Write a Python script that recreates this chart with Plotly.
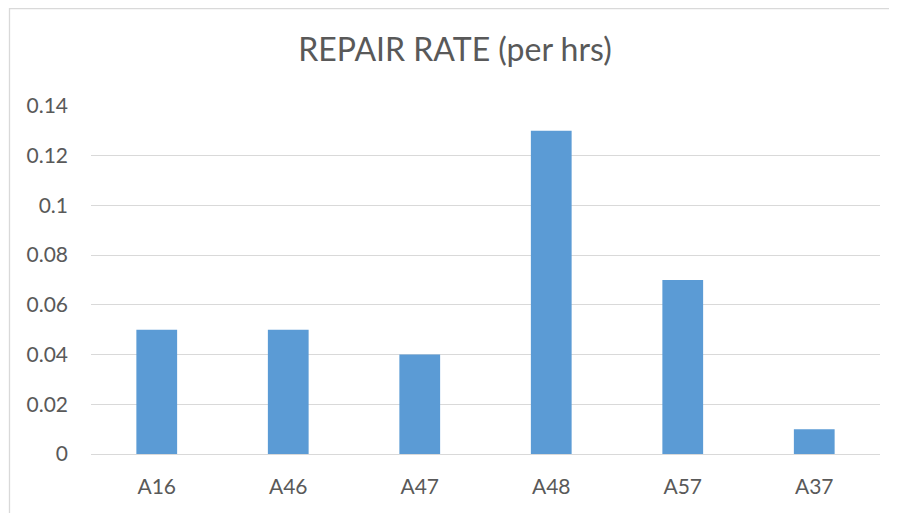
import plotly.graph_objects as go

# data
machines = ["A16", "A46", "A47", "A48", "A57", "A37"]
repair_rate = [0.05, 0.05, 0.04, 0.13, 0.07, 0.01]
y_ticks = [0, 0.02, 0.04, 0.06, 0.08, 0.1, 0.12, 0.14]
y_tick_labels = ["0", "0.02", "0.04", "0.06", "0.08", "0.1", "0.12", "0.14"]

text_grey = "#595959"
grid_grey = "#d9d9d9"

fig = go.Figure(
    go.Bar(x=machines, y=repair_rate, marker=dict(color="#5b9bd5", line=dict(width=0)))
)

# the page body adds an 8px offset, so the figure is 8px smaller
W, H = 889, 505
# plot area in figure pixels
left, right, top, bottom = 83, 872, 98, 446
pw, ph = right - left, bottom - top

fig.update_layout(
    width=W, height=H,
    margin=dict(l=left, r=W - right, t=top, b=H - bottom),
    paper_bgcolor="white", plot_bgcolor="white",
    font=dict(family="Lato", color=text_grey, size=21),
    bargap=0.69,
    showlegend=False,
    title=dict(text="REPAIR RATE (per hrs)", x=447 / W, xref="container", xanchor="center",
               y=1 - 42 / H, yref="container", yanchor="middle",
               font=dict(size=32, color=text_grey, family="Lato")),
    xaxis=dict(showgrid=False, showline=False, zeroline=False, ticks="",
               ticklabelstandoff=18, tickfont=dict(size=21)),
    yaxis=dict(range=[0, 0.14], tickvals=y_ticks, ticktext=y_tick_labels,
               showgrid=True, gridcolor=grid_grey, gridwidth=1.3,
               zeroline=True, zerolinecolor=grid_grey, zerolinewidth=1.3,
               showline=False, ticks="", ticklabelstandoff=22, tickfont=dict(size=21)),
    shapes=[dict(type="rect", xref="paper", yref="paper",
                 x0=(1.5 - left) / pw, x1=(W + 20 - left) / pw,
                 y0=(bottom - H - 20) / ph, y1=(bottom - 0.5) / ph,
                 line=dict(color=grid_grey, width=1.3), layer="below")],
)

fig.write_html("out.html")
